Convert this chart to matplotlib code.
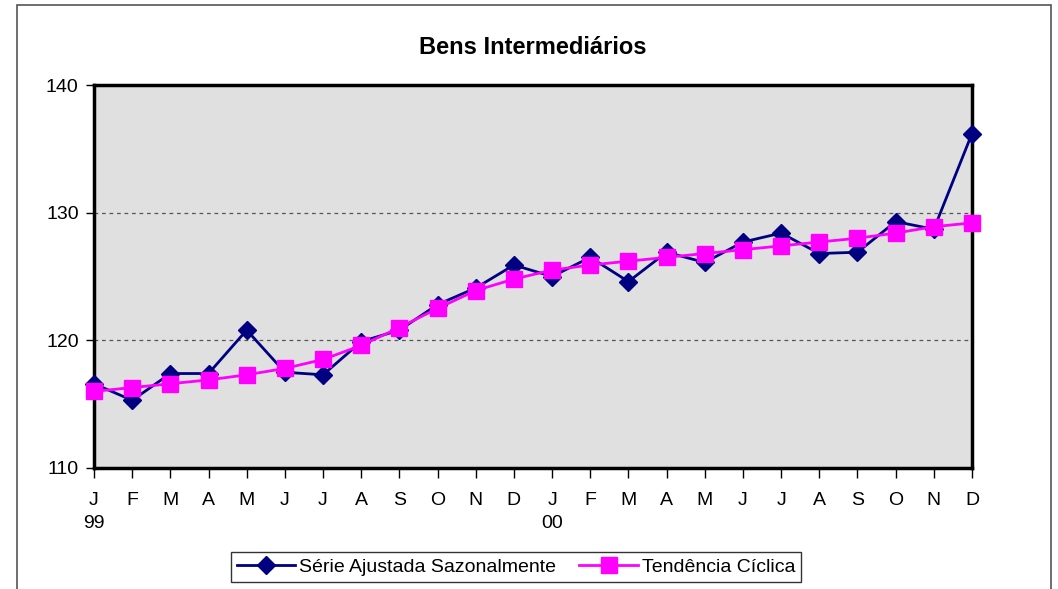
import matplotlib
matplotlib.use("Agg")
import matplotlib.pyplot as plt
from matplotlib.patches import Rectangle

plt.rcParams['font.family'] = ['Liberation Sans', 'DejaVu Sans']

# months Jan/99 .. Dec/00
months = ["J", "F", "M", "A", "M", "J", "J", "A", "S", "O", "N", "D",
          "J", "F", "M", "A", "M", "J", "J", "A", "S", "O", "N", "D"]
years = {0: "99", 12: "00"}

serie_ajustada = [116.6, 115.3, 117.4, 117.4, 120.8, 117.5, 117.3, 119.9,
                  120.8, 122.8, 124.1, 125.9, 125.0, 126.5, 124.6, 126.9,
                  126.1, 127.7, 128.4, 126.8, 126.9, 129.3, 128.7, 136.2]
tendencia = [116.0, 116.3, 116.6, 116.9, 117.3, 117.8, 118.5, 119.6,
             121.0, 122.5, 123.9, 124.8, 125.5, 125.9, 126.2, 126.5,
             126.8, 127.1, 127.4, 127.7, 128.0, 128.4, 128.9, 129.2]

labels = [m + ("\n" + years[i] if i in years else "") for i, m in enumerate(months)]
x = list(range(len(months)))

fig = plt.figure(figsize=(10.58, 5.89), dpi=100)
fig.patches.append(Rectangle((17 / 1058, -0.1), (1051 - 17) / 1058, 1.1 - 5 / 589,
                             transform=fig.transFigure, fill=False,
                             edgecolor='#555555', linewidth=1.2))

ax = fig.add_axes([94 / 1058, 1 - 468 / 589, (972 - 94) / 1058, (468 - 85) / 589])
ax.set_facecolor('#e0e0e0')

ax.plot(x, serie_ajustada, color='#000080', marker='D', markersize=9, linewidth=2,
        label='Série Ajustada Sazonalmente', zorder=3, clip_on=False)
ax.plot(x, tendencia, color='#ff00ff', marker='s', markersize=11, linewidth=2,
        label='Tendência Cíclica', zorder=4, clip_on=False)

ax.set_xlim(0, 23)
ax.set_ylim(110, 140)
ax.set_yticks([110, 120, 130, 140])
ax.set_xticks(x)
ax.set_xticklabels(labels, fontsize=14, va='top', linespacing=1.5)
ax.tick_params(axis='y', labelsize=14, length=6, width=1, pad=5)
ax.tick_params(axis='x', length=7, width=1, pad=10, direction='out')
ax.grid(axis='y', color='#555555', linestyle=(0, (3, 3)), linewidth=0.9)
ax.set_axisbelow(True)
for s in ax.spines.values():
    s.set_linewidth(2.5)
    s.set_color('black')

fig.text(533 / 1058, 1 - 47 / 589, 'Bens Intermediários', ha='center', va='center',
         fontsize=17, fontweight='bold')

leg = fig.legend(loc='center', bbox_to_anchor=(516 / 1058, 1 - 567 / 589), ncol=2,
                 fontsize=14, frameon=True, fancybox=False, edgecolor='black',
                 handlelength=3, columnspacing=1.2, borderpad=0.3,
                 handletextpad=0.2)
leg.get_frame().set_linewidth(1)

fig.savefig('out.png', dpi=100)
